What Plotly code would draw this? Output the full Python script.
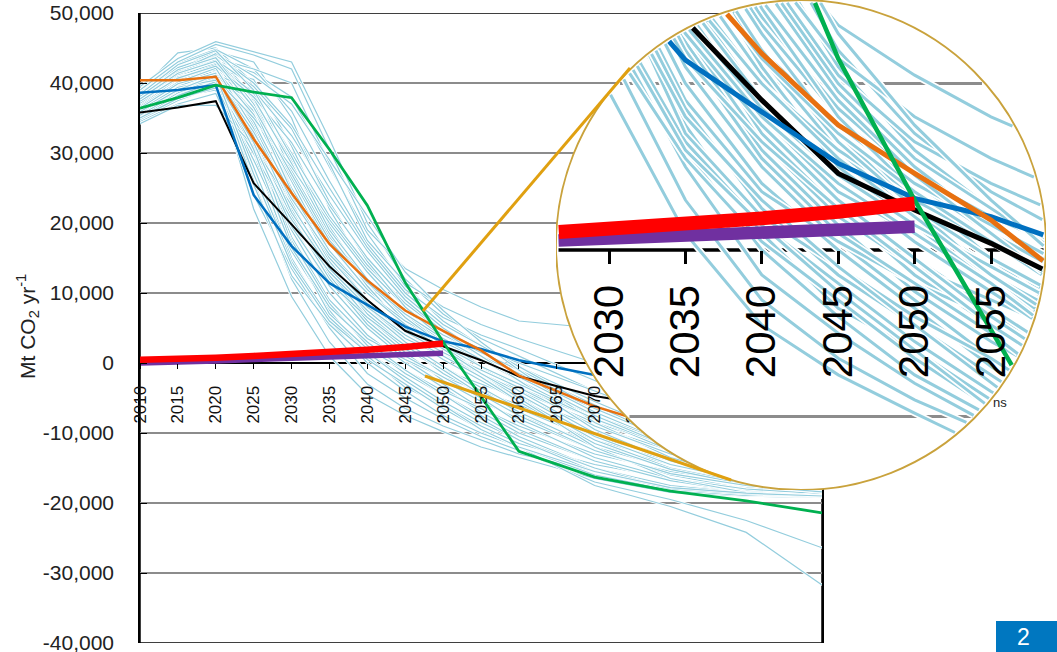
import math
import plotly.graph_objects as go

W, H = 1057, 652

# ---------------- data ----------------
YEARS = [2010, 2015, 2020, 2025, 2030, 2035, 2040, 2045, 2050, 2055, 2060, 2070, 2080, 2090, 2100]

# individual scenario pathways (GtCO2/yr, converted to Mt below)
scenarios_gt = [
    [36.0, 39.5, 40.5, 22.0, 9.5, 1.0, -4.5, -7.5, -9.8, -12.0, -13.5, -16.5, -18.5, -19.0, -19.2],
    [37.5, 41.0, 42.0, 26.0, 12.0, 3.0, -3.0, -6.5, -9.0, -11.0, -13.0, -15.5, -17.5, -18.3, -18.6],
    [35.0, 38.0, 39.0, 24.0, 13.5, 5.0, -1.5, -5.0, -8.0, -10.5, -12.5, -17.0, -19.5, -22.5, -26.4],
    [38.0, 42.5, 43.5, 30.0, 15.0, 6.0, 0.0, -4.0, -7.5, -10.0, -12.0, -17.5, -20.5, -24.2, -31.7],
    [34.5, 37.0, 38.5, 27.0, 16.0, 7.5, 1.0, -3.5, -6.0, -9.0, -11.5, -14.5, -16.5, -17.8, -18.4],
    [36.5, 40.0, 41.0, 33.0, 20.0, 11.0, 5.0, 0.5, -3.0, -6.5, -9.0, -13.0, -15.5, -17.0, -18.2],
    [37.0, 41.5, 43.0, 35.0, 22.0, 12.5, 6.0, 1.5, -2.5, -5.5, -8.0, -12.5, -16.0, -18.0, -18.8],
    [35.5, 38.5, 40.0, 30.5, 19.0, 10.0, 4.0, 0.0, -3.5, -7.0, -10.0, -14.0, -16.8, -18.2, -19.0],
    [38.5, 43.0, 44.0, 38.0, 25.0, 14.0, 7.0, 2.5, -1.5, -4.5, -7.5, -11.5, -14.5, -16.5, -17.5],
    [36.0, 39.0, 41.5, 31.0, 18.0, 9.0, 3.5, 0.5, -2.0, -4.0, -6.0, -10.0, -13.5, -15.5, -16.8],
    [39.0, 44.3, 45.0, 40.0, 27.0, 16.0, 8.5, 3.0, -0.5, -3.5, -6.5, -11.0, -14.0, -16.0, -17.0],
    [34.8, 37.5, 39.5, 29.0, 17.5, 8.5, 2.5, -1.5, -4.5, -7.5, -10.5, -15.0, -17.5, -18.6, -19.1],
    [37.8, 40.5, 42.5, 34.0, 23.0, 13.0, 6.5, 2.0, -1.0, -3.0, -5.0, -9.0, -12.5, -15.0, -16.5],
    [36.2, 39.8, 41.8, 36.0, 26.0, 15.5, 9.0, 4.0, 0.5, -2.5, -5.5, -10.5, -13.5, -15.8, -17.2],
    [35.2, 38.2, 40.2, 32.0, 21.0, 12.0, 5.5, 1.0, -2.0, -5.0, -8.5, -13.5, -16.5, -18.0, -18.7],
    [38.0, 42.0, 44.5, 43.0, 35.0, 22.0, 13.0, 7.0, 3.0, 0.5, -2.0, -6.5, -10.5, -13.5, -15.5],
    [37.0, 40.5, 42.0, 40.5, 31.0, 19.5, 11.5, 6.0, 2.0, -1.0, -3.5, -8.0, -12.0, -15.0, -17.0],
    [39.5, 43.5, 45.9, 44.5, 43.0, 32.0, 20.0, 12.0, 7.0, 3.5, 1.0, -4.0, -9.0, -12.5, -15.0],
    [36.8, 40.2, 41.2, 39.0, 32.5, 24.0, 16.0, 9.5, 5.0, 1.5, -1.5, -7.0, -11.5, -14.5, -16.5],
    [38.2, 42.0, 43.2, 41.5, 38.0, 28.0, 18.5, 11.0, 6.0, 2.5, -0.5, -5.5, -10.0, -13.0, -15.0],
    [35.5, 38.8, 40.5, 37.5, 29.0, 20.5, 13.5, 8.0, 4.0, 1.0, -1.5, -6.0, -10.0, -13.0, -15.5],
    [37.2, 41.0, 42.8, 38.5, 30.0, 21.0, 14.0, 8.5, 4.5, 2.0, 0.0, -4.0, -8.0, -11.5, -14.0],
    [36.5, 39.8, 41.0, 36.0, 27.5, 18.0, 12.0, 7.5, 4.0, 1.5, -1.0, -6.0, -11.0, -14.5, -16.8],
    [38.8, 42.8, 44.8, 42.0, 36.0, 26.0, 17.0, 10.5, 6.5, 4.0, 2.0, -2.5, -7.0, -10.5, -13.0],
    [39.0, 43.0, 45.5, 44.0, 42.0, 30.5, 19.0, 13.5, 10.5, 8.0, 6.0, 5.0, 2.0, -1.0, -4.0],
    [37.5, 41.5, 43.5, 42.0, 40.0, 28.5, 17.5, 11.5, 8.0, 5.5, 3.5, 0.0, -4.5, -8.5, -12.0],
    [36.8, 40.0, 41.0, 28.0, 14.5, 6.5, 1.5, -2.0, -5.5, -8.5, -11.0, -15.0, -18.0, -18.8, -19.2],
    [35.8, 39.2, 40.8, 25.5, 12.5, 5.5, 0.5, -3.0, -6.5, -9.5, -12.0, -16.0, -18.2, -18.9, -19.0],
    [37.3, 40.8, 42.3, 32.5, 17.0, 7.0, 2.0, -1.0, -4.0, -6.5, -9.5, -14.0, -16.8, -18.4, -18.9],
    [36.3, 39.5, 41.5, 34.5, 24.0, 14.5, 8.0, 3.5, 1.0, -1.5, -4.0, -8.5, -12.0, -14.5, -16.2],
    [38.3, 42.3, 43.8, 37.0, 26.5, 17.0, 10.5, 5.5, 2.0, -1.0, -3.0, -7.5, -11.5, -14.0, -16.0],
    [35.0, 37.8, 39.3, 30.0, 20.5, 13.0, 7.5, 3.0, -0.5, -4.0, -7.0, -12.0, -15.0, -17.0, -18.0],
    [37.6, 41.2, 43.3, 39.5, 33.5, 23.0, 14.5, 8.0, 3.5, -0.5, -4.0, -10.0, -14.0, -16.5, -17.8],
    [36.9, 40.6, 42.6, 37.8, 28.5, 18.5, 11.0, 5.0, 1.5, -2.0, -5.0, -11.0, -15.0, -17.2, -18.3],
    [34.2, 36.8, 36.8, 31.0, 22.5, 14.0, 8.5, 4.5, 1.5, -1.0, -3.5, -8.0, -11.5, -14.0, -15.8],
    [38.6, 42.2, 44.0, 40.0, 34.0, 25.0, 16.5, 10.0, 5.5, 2.5, -0.5, -6.5, -11.0, -14.2, -16.4],
    [37.1, 40.9, 41.9, 35.5, 25.0, 16.0, 10.0, 6.0, 3.0, 0.5, -2.5, -8.0, -12.5, -15.5, -17.5],
    [36.6, 40.1, 42.1, 33.5, 21.5, 13.5, 8.0, 4.0, 1.0, -2.0, -5.5, -11.5, -15.2, -17.4, -18.5],
    [35.4, 38.6, 40.6, 35.0, 28.0, 20.0, 13.0, 7.0, 2.5, -1.5, -5.0, -12.0, -16.5, -18.5, -19.0],
    [37.9, 41.7, 44.2, 41.0, 37.0, 29.0, 21.0, 13.0, 7.5, 3.0, -1.0, -8.5, -13.5, -16.5, -18.0],
    [36.4, 39.9, 41.4, 30.5, 16.5, 8.0, 3.0, -1.0, -4.5, -8.0, -11.0, -15.5, -18.0, -18.7, -19.1],
    [38.1, 41.9, 43.6, 36.5, 24.5, 15.0, 9.0, 4.5, 1.5, -1.0, -3.5, -9.0, -13.0, -15.8, -17.6],
    [35.7, 38.9, 40.9, 33.0, 23.5, 15.5, 10.0, 5.5, 2.0, -1.5, -4.5, -10.5, -14.5, -16.8, -18.1],
    [37.4, 40.7, 42.4, 38.0, 31.5, 22.5, 15.0, 9.0, 4.5, 1.0, -2.5, -9.5, -14.0, -16.6, -17.9],
    [36.1, 39.4, 40.4, 31.5, 19.5, 11.5, 6.5, 2.5, -1.0, -4.5, -7.5, -12.5, -15.8, -17.5, -18.4],
    [38.4, 42.6, 44.6, 39.0, 29.5, 19.0, 12.0, 6.5, 2.5, -0.5, -3.0, -8.0, -12.0, -14.8, -16.6],
    [35.9, 39.0, 41.1, 27.0, 14.0, 6.0, 1.5, -2.5, -6.0, -9.5, -12.0, -15.5, -17.8, -18.6, -19.0],
    [37.7, 41.4, 43.1, 36.5, 27.0, 17.5, 11.5, 7.0, 3.5, 0.5, -2.0, -7.5, -12.0, -15.0, -16.9],
]

# highlighted pathways (GtCO2/yr)
black_gt = [35.8, 36.5, 37.4, 25.7, 19.8, 13.8, 9.0, 4.6, 2.4, 0.4, -1.9, -4.7, -6.5, -8.0, -9.0]
blue_gt = [38.6, 39.0, 39.7, 24.0, 16.7, 11.4, 8.3, 5.2, 3.1, 2.0, 0.4, -1.7, -3.5, -5.0, -6.5]
orange_gt = [40.4, 40.4, 40.9, 32.0, 24.3, 17.0, 11.8, 7.5, 4.6, 1.8, -1.8, -6.2, -9.5, -11.5, -12.5]
green_gt = [36.4, 37.9, 39.7, 38.7, 37.9, 30.5, 22.5, 11.5, 3.0, -4.8, -12.6, -16.3, -18.3, -19.7, -21.4]

SHORT_YEARS = [2010, 2015, 2020, 2025, 2030, 2035, 2040, 2045, 2050]
red_gt = [0.45, 0.55, 0.75, 1.0, 1.25, 1.55, 1.9, 2.3, 2.8]
purple_gt = [0.0, 0.1, 0.3, 0.5, 0.7, 0.9, 1.1, 1.25, 1.4]

Y_TICKS = [50000, 40000, 30000, 20000, 10000, 0, -10000, -20000, -30000, -40000]
X_TICKS = list(range(2010, 2101, 5))
INSET_X_TICKS = [2030, 2035, 2040, 2045, 2050, 2055]
INSET_GRID = [10000, -10000]


def to_mt(vals):
    return [v * 1000 for v in vals]


# ---------------- geometry ----------------
XR_MAIN = [2010, 2100]
YR_MAIN = [-40000, 50000]
XD_MAIN = [140 / W, 822 / W]
YD_MAIN = [(H - 643) / H, (H - 13) / H]

CX, CY, R = 801, 245, 245  # magnifier circle (pixels)
XD_IN = [(CX - R) / W, (CX + R) / W]
YD_IN = [(H - (CY + R)) / H, (H - (CY - R)) / H]
PX_PER_YR_IN = 15.28
PX_PER_MT_IN = 16.65 / 1000
X2030_PX = 609
Y0_PX = 250
XR_IN = [2030 - (X2030_PX - (CX - R)) / PX_PER_YR_IN, 2030 + ((CX + R) - X2030_PX) / PX_PER_YR_IN]
YR_IN = [-((CY + R) - Y0_PX) / PX_PER_MT_IN, (Y0_PX - (CY - R)) / PX_PER_MT_IN]


def px(x):
    return x / W


def py(y):
    return (H - y) / H


def clip_circle(xs, ys, rr=0.99):
    """Clip a polyline (inset data coords) to the circular magnifier."""
    def uv(x, y):
        return (2 * (x - XR_IN[0]) / (XR_IN[1] - XR_IN[0]) - 1,
                2 * (y - YR_IN[0]) / (YR_IN[1] - YR_IN[0]) - 1)
    ox, oy = [], []
    cont = False
    for i in range(len(xs) - 1):
        u0, v0 = uv(xs[i], ys[i])
        u1, v1 = uv(xs[i + 1], ys[i + 1])
        du, dv = u1 - u0, v1 - v0
        a = du * du + dv * dv
        b = 2 * (u0 * du + v0 * dv)
        c = u0 * u0 + v0 * v0 - rr * rr
        if a == 0:
            cont = False
            continue
        disc = b * b - 4 * a * c
        if disc <= 0:
            cont = False
            continue
        sq = math.sqrt(disc)
        t0 = max(0.0, (-b - sq) / (2 * a))
        t1 = min(1.0, (-b + sq) / (2 * a))
        if t0 >= t1:
            cont = False
            continue
        ax = xs[i] + t0 * (xs[i + 1] - xs[i])
        ay = ys[i] + t0 * (ys[i + 1] - ys[i])
        bx = xs[i] + t1 * (xs[i + 1] - xs[i])
        by = ys[i] + t1 * (ys[i + 1] - ys[i])
        if not (cont and t0 == 0.0):
            if ox:
                ox.append(None)
                oy.append(None)
            ox.append(ax)
            oy.append(ay)
        ox.append(bx)
        oy.append(by)
        cont = (t1 == 1.0)
    return ox, oy


LB = '#93CDDD'
C_BLACK = '#000000'
C_BLUE = '#0070C0'
C_ORANGE = '#E8700F'
C_GREEN = '#00B050'
C_RED = '#FF0000'
C_PURPLE = '#7030A0'
C_GOLD = '#E0A010'
C_RING = '#C9A23C'
C_GRID = '#8C8C8C'

fig = go.Figure()


def add(x, y, color, width, inset=False):
    fig.add_trace(go.Scatter(
        x=x, y=y, mode='lines', line=dict(color=color, width=width),
        xaxis='x2' if inset else 'x', yaxis='y2' if inset else 'y',
        hoverinfo='skip', showlegend=False, connectgaps=False))


# ---------------- main chart ----------------
for s in scenarios_gt:
    ys = to_mt(s)
    add(YEARS, ys, 'white', 2.8)
    add(YEARS, ys, LB, 1.2)

add(YEARS, to_mt(black_gt), C_BLACK, 2)
add(YEARS, to_mt(blue_gt), C_BLUE, 2.5)
add(YEARS, to_mt(orange_gt), C_ORANGE, 2.5)
add(YEARS, to_mt(green_gt), C_GREEN, 2.8)
add(SHORT_YEARS, to_mt(purple_gt), C_PURPLE, 5.5)
add(SHORT_YEARS, to_mt(red_gt), C_RED, 6.5)

# ---------------- magnified inset ----------------
for g in INSET_GRID:
    gx, gy = clip_circle(XR_IN, [g, g])
    add(gx, gy, C_GRID, 3, inset=True)
zx, zy = clip_circle(XR_IN, [0, 0])
add(zx, zy, 'black', 3.5, inset=True)

for s in scenarios_gt:
    cx, cy = clip_circle(YEARS, to_mt(s))
    add(cx, cy, 'white', 6.5, inset=True)
    add(cx, cy, LB, 3, inset=True)

for vals, col, wd in [(black_gt, C_BLACK, 5), (blue_gt, C_BLUE, 5),
                      (orange_gt, C_ORANGE, 5), (green_gt, C_GREEN, 4.5)]:
    cx, cy = clip_circle(YEARS, to_mt(vals))
    add(cx, cy, col, wd, inset=True)
for vals, col, wd in [(purple_gt, C_PURPLE, 12.5), (red_gt, C_RED, 14)]:
    cx, cy = clip_circle(SHORT_YEARS, to_mt(vals))
    add(cx, cy, col, wd, inset=True)

# ---------------- layout ----------------
FONT = 'Liberation Sans, Arial, sans-serif'
y_zero_paper = YD_MAIN[0] + (0 - YR_MAIN[0]) / (YR_MAIN[1] - YR_MAIN[0]) * (YD_MAIN[1] - YD_MAIN[0])
y_zero_inset = YD_IN[0] + (0 - YR_IN[0]) / (YR_IN[1] - YR_IN[0]) * (YD_IN[1] - YD_IN[0])

fig.update_layout(
    width=W, height=H,
    margin=dict(l=0, r=0, t=0, b=0, pad=0, autoexpand=False),
    paper_bgcolor='white', plot_bgcolor='rgba(0,0,0,0)',
    font=dict(family=FONT, color='#222222'),
    showlegend=False,
    xaxis=dict(domain=XD_MAIN, range=XR_MAIN, anchor='free', position=y_zero_paper,
               automargin=False, ticklabeloverflow='allow',
               showgrid=False, zeroline=False, showline=False,
               tickmode='array', tickvals=X_TICKS, ticktext=[str(v) for v in X_TICKS],
               tickangle=-90, ticks='outside', ticklen=5, tickwidth=1.2, tickcolor='black',
               tickfont=dict(size=17, color='#111111'), ticklabelstandoff=10),
    yaxis=dict(domain=YD_MAIN, range=YR_MAIN, anchor='x', automargin=False,
               ticklabeloverflow='allow',
               showgrid=True, gridcolor=C_GRID, gridwidth=1.5,
               zeroline=True, zerolinecolor='black', zerolinewidth=1.5,
               showline=True, linecolor='black', linewidth=1.5, mirror=True,
               tickmode='array', tickvals=Y_TICKS, ticktext=[f'{v:,}' for v in Y_TICKS],
               ticks='inside', ticklen=7, tickwidth=1.2, tickcolor='black',
               tickfont=dict(size=21, color='#222222'), ticklabelstandoff=20),
    xaxis2=dict(domain=XD_IN, range=XR_IN, anchor='free', position=y_zero_inset,
                automargin=False, ticklabeloverflow='allow',
                showgrid=False, zeroline=False, showline=False,
                tickmode='array', tickvals=INSET_X_TICKS, ticktext=[str(v) for v in INSET_X_TICKS],
                tickangle=-90, ticks='outside', ticklen=13, tickwidth=3, tickcolor='black',
                tickfont=dict(size=42, color='black'), ticklabelstandoff=4),
    yaxis2=dict(domain=YD_IN, range=YR_IN, anchor='x2', automargin=False,
                showgrid=False, zeroline=False, showline=False,
                showticklabels=False, ticks=''),
)

shapes = [
    # plot frame (top / bottom)
    dict(type='rect', xref='x', yref='y', x0=XR_MAIN[0], x1=XR_MAIN[1], y0=YR_MAIN[0], y1=YR_MAIN[1],
         line=dict(color='black', width=1.5), fillcolor='rgba(0,0,0,0)', layer='below'),
    # white magnifier disc (covers the main chart)
    dict(type='circle', xref='x2', yref='y2', x0=XR_IN[0], x1=XR_IN[1], y0=YR_IN[0], y1=YR_IN[1],
         line=dict(width=0), fillcolor='white', layer='below'),
    # ring
    dict(type='circle', xref='x2', yref='y2', x0=XR_IN[0], x1=XR_IN[1], y0=YR_IN[0], y1=YR_IN[1],
         line=dict(color=C_RING, width=1.8), fillcolor='rgba(0,0,0,0)', layer='above'),
    # connector lines
    dict(type='line', xref='paper', yref='paper', x0=px(423), y0=py(311), x1=px(630), y1=py(68),
         line=dict(color=C_GOLD, width=3), layer='above'),
    dict(type='line', xref='paper', yref='paper', x0=px(425), y0=py(376), x1=px(731), y1=py(480),
         line=dict(color=C_GOLD, width=3), layer='above'),
    # page-number box
    dict(type='rect', xref='paper', yref='paper', x0=px(996), x1=px(1057), y0=py(652), y1=py(621),
         line=dict(width=0), fillcolor='#0077C0', layer='above'),
]
fig.update_layout(shapes=shapes)

fig.add_annotation(x=px(27), y=py(327), xref='paper', yref='paper', showarrow=False,
                   xanchor='center', yanchor='middle',
                   text='Mt CO<sub>2</sub> yr<sup>-1</sup>', textangle=-90,
                   font=dict(size=21, color='#222222', family=FONT))
fig.add_annotation(x=px(1009), y=py(402), xref='paper', yref='paper', showarrow=False,
                   xanchor='right', yanchor='middle', text='ns',
                   font=dict(size=13, color='#222222', family=FONT))
fig.add_annotation(x=px(1023), y=py(637), xref='paper', yref='paper', showarrow=False,
                   xanchor='center', yanchor='middle',
                   text='2', font=dict(size=23, color='white', family=FONT))

fig.write_html('out.html', config={'displayModeBar': False},
               post_script="document.body.style.margin='0px';")
